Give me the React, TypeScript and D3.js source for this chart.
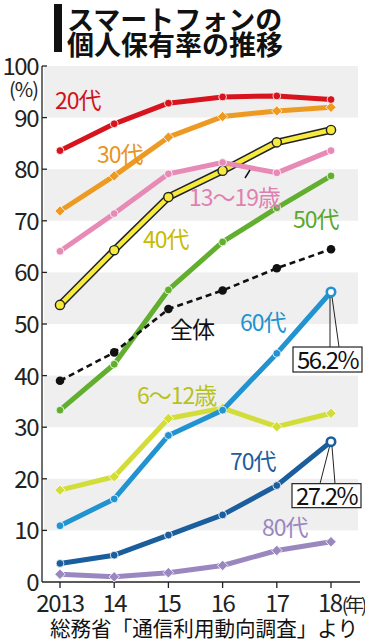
import React from "react";
import * as d3 from "d3";

// 総務省「通信利用動向調査」 smartphone ownership by age group (%)
const years = [2013, 2014, 2015, 2016, 2017, 2018];
const yearLabels = ["2013", "14", "15", "16", "17", "18"];
const yTicks = [0, 10, 20, 30, 40, 50, 60, 70, 80, 90, 100];

const age20 = [83.6, 88.8, 92.8, 94.0, 94.2, 93.5];
const age30 = [71.9, 78.7, 86.2, 90.2, 91.3, 92.0];
const age13to19 = [64.1, 71.4, 79.1, 81.3, 79.3, 83.6];
const age40 = [53.7, 64.3, 74.6, 79.7, 85.2, 87.6];
const age50 = [33.3, 42.2, 56.6, 65.9, 72.5, 78.7];
const overall = [39.0, 44.5, 52.9, 56.5, 60.8, 64.5];
const age60 = [10.9, 16.1, 28.4, 33.3, 44.3, 56.2];
const age6to12 = [17.8, 20.4, 31.7, 33.7, 30.1, 32.7];
const age70 = [3.6, 5.2, 9.1, 13.0, 18.7, 27.2];
const age80 = [1.5, 1.0, 1.8, 3.2, 6.1, 7.8];

const FONT = "'Noto Sans CJK JP', 'Noto Sans', sans-serif";

const series = [
  { name: "80代", values: age80, color: "#9a87c0", text: "#9a87c0", marker: "diamond", lx: 262, ly: 536 },
  { name: "70代", values: age70, color: "#1b5e9e", text: "#1b5e9e", marker: "circle", lx: 230, ly: 470, openEnd: true },
  { name: "6〜12歳", values: age6to12, color: "#d3dd3a", text: "#b8c21c", marker: "diamond", lx: 137, ly: 404 },
  { name: "60代", values: age60, color: "#2093d0", text: "#2093d0", marker: "circle", lx: 240, ly: 331, openEnd: true },
  { name: "50代", values: age50, color: "#62ae2e", text: "#5aa82a", marker: "circle", lx: 293, ly: 228 },
  { name: "全体", values: overall, color: "#111", text: "#111", marker: "dot", lx: 170, ly: 338, dashed: true },
  { name: "40代", values: age40, color: "#f6ea3a", text: "#c9bb00", marker: "outlined", lx: 143, ly: 248 },
  { name: "13〜19歳", values: age13to19, color: "#e88ab6", text: "#e07fb0", marker: "circle", lx: 189, ly: 206 },
  { name: "30代", values: age30, color: "#ed9a22", text: "#e8951f", marker: "diamond", lx: 97, ly: 163 },
  { name: "20代", values: age20, color: "#d7141e", text: "#d0121b", marker: "circle", lx: 55, ly: 109 },
];

export default function App() {
  const x = d3.scaleLinear().domain([2013, 2018]).range([60, 331]);
  const y = d3.scaleLinear().domain([0, 100]).range([582, 66]);
  const axisX = 42;
  const line = d3
    .line<number>()
    .x((_, i) => x(years[i]))
    .y((d) => y(d));

  const bands = [10, 30, 50, 70, 90];

  const marker = (s: any, v: number, i: number) => {
    const cx = x(years[i]);
    const cy = y(v);
    const last = i === years.length - 1;
    if (s.openEnd && last) {
      return <circle key={i} cx={cx} cy={cy} r={4.2} fill="#fff" stroke={s.color} strokeWidth={2.6} />;
    }
    if (s.marker === "diamond") {
      const r = 5.2;
      return (
        <path key={i} d={`M${cx},${cy - r}L${cx + r},${cy}L${cx},${cy + r}L${cx - r},${cy}Z`} fill={s.color} stroke="#fff" strokeWidth={0.8} />
      );
    }
    if (s.marker === "outlined") {
      return <circle key={i} cx={cx} cy={cy} r={4.6} fill={s.color} stroke="#222" strokeWidth={1.4} />;
    }
    if (s.marker === "dot") {
      return <circle key={i} cx={cx} cy={cy} r={4.3} fill="#111" />;
    }
    return <circle key={i} cx={cx} cy={cy} r={3.9} fill={s.color} stroke="#fff" strokeWidth={0.8} />;
  };

  const c60 = { x: x(2018), y: y(age60[5]) };
  const c70 = { x: x(2018), y: y(age70[5]) };

  return (
    <svg width={365} height={640} style={{ position: "absolute", left: 0, top: 0, background: "#fff" }} fontFamily={FONT}>
      {/* title */}
      <rect x={54} y={4} width={8} height={48} fill="#111" />
      <text x={67} y={30} fontSize={27} fontWeight="bold" fill="#111">スマートフォンの</text>
      <text x={67} y={55} fontSize={27} fontWeight="bold" fill="#111">個人保有率の推移</text>

      {/* bands */}
      {bands.map((b) => (
        <rect key={b} x={axisX + 2} y={y(b + 10)} width={358 - axisX - 2} height={y(b) - y(b + 10)} fill="#efefef" />
      ))}

      {/* axes */}
      <line x1={axisX} x2={axisX} y1={y(100)} y2={y(0)} stroke="#222" strokeWidth={1.3} />
      <line x1={axisX} x2={360} y1={y(0)} y2={y(0)} stroke="#222" strokeWidth={1.3} />
      {yTicks.filter((t) => t > 0).map((t) => (
        <line key={t} x1={axisX} x2={axisX + 5} y1={y(t)} y2={y(t)} stroke="#222" strokeWidth={1.3} />
      ))}
      {years.map((yr) => (
        <line key={yr} x1={x(yr)} x2={x(yr)} y1={y(0)} y2={y(0) + 6} stroke="#222" strokeWidth={1.3} />
      ))}
      {yTicks.map((t) => (
        <text key={t} x={38} y={y(t) + 9} fontSize={24} textAnchor="end" fill="#222" letterSpacing={-1.5}>
          {t}
        </text>
      ))}
      <text x={38} y={97} fontSize={20} textAnchor="end" fill="#222" letterSpacing={-1}>(%)</text>
      {yearLabels.map((l, i) =>
        i === yearLabels.length - 1 ? (
          <text key={l} x={x(years[i]) - 13} y={612} fontSize={24} fill="#222" letterSpacing={-1.5}>
            {l}
            <tspan fontSize={19} letterSpacing={-3}>(年)</tspan>
          </text>
        ) : (
          <text key={l} x={x(years[i])} y={612} fontSize={24} textAnchor="middle" fill="#222" letterSpacing={-1.5}>
            {l}
          </text>
        )
      )}

      {/* lines */}
      {series.map((s) => (
        <g key={s.name}>
          {s.marker === "outlined" && (
            <path d={line(s.values) || ""} fill="none" stroke="#222" strokeWidth={7.5} strokeLinejoin="round" strokeLinecap="round" />
          )}
          <path
            d={line(s.values) || ""}
            fill="none"
            stroke={s.color}
            strokeWidth={s.dashed ? 2.6 : s.marker === "outlined" ? 4.5 : 5}
            strokeDasharray={s.dashed ? "6,4" : undefined}
            strokeLinejoin="round"
          />
          {s.values.map((v, i) => marker(s, v, i))}
        </g>
      ))}

      {/* series labels */}
      {series.map((s) => (
        <text key={s.name} x={s.lx} y={s.ly} fontSize={23} fill={s.text} letterSpacing={-1}>
          {s.name}
        </text>
      ))}
      <line x1={245} y1={178} x2={250} y2={170} stroke="#111" strokeWidth={1.5} />

      {/* callouts */}
      <path d={`M${c60.x - 1},${c60.y + 5}L${c60.x - 1},${c60.y + 55}M${c60.x + 1},${c60.y + 5}L${c60.x + 8},${c60.y + 55}`} stroke="#222" strokeWidth={1} fill="none" />
      <rect x={293} y={c60.y + 55} width={69} height={25} fill="#fff" stroke="#222" strokeWidth={1.2} />
      <text x={327.5} y={c60.y + 77} fontSize={24} textAnchor="middle" fill="#111" letterSpacing={-1.5}>56.2%</text>

      <path d={`M${c70.x - 1.5},${c70.y + 5}L${c70.x - 11},${c70.y + 42}M${c70.x + 1},${c70.y + 5}L${c70.x + 4},${c70.y + 42}`} stroke="#222" strokeWidth={1} fill="none" />
      <rect x={292} y={c70.y + 42} width={69} height={24} fill="#fff" stroke="#222" strokeWidth={1.2} />
      <text x={326.5} y={c70.y + 63} fontSize={24} textAnchor="middle" fill="#111" letterSpacing={-1.5}>27.2%</text>

      {/* source */}
      <text x={50} y={636} fontSize={21} fill="#111" textLength={308} lengthAdjust="spacingAndGlyphs">総務省「通信利用動向調査」より</text>
    </svg>
  );
}
